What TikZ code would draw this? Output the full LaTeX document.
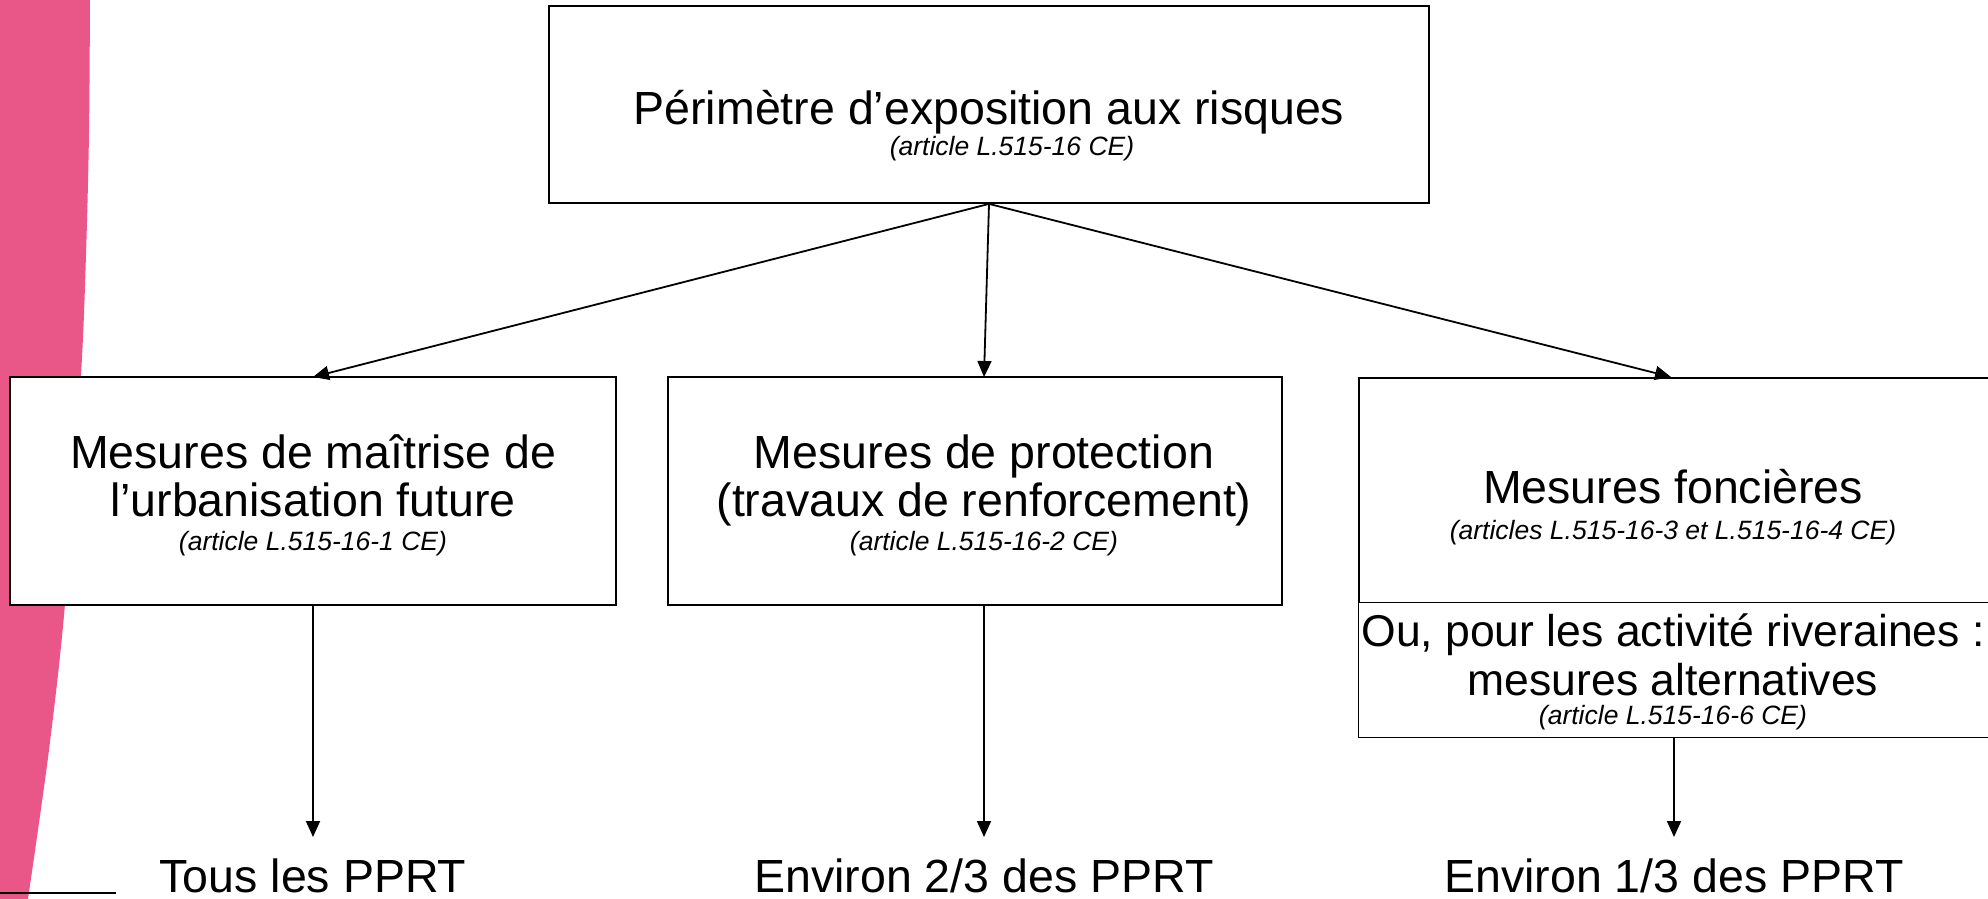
\documentclass[tikz,border=0pt]{standalone}
\usepackage{fontspec}
\setmainfont{Liberation Sans}
\usetikzlibrary{arrows.meta}
\definecolor{rose}{RGB}{232,87,135}
\begin{document}
\begin{tikzpicture}[x=1pt,y=-1pt,
  box/.style={draw=black, line width=1.8pt, fill=white, inner sep=0pt},
  arr/.style={line width=1.8pt, -{Triangle[length=16pt,width=14pt]}},
  big/.style={anchor=base, inner sep=0pt, font=\fontsize{46.5}{50}\selectfont},
  mid/.style={anchor=base, inner sep=0pt, font=\fontsize{44.5}{50}\selectfont},
  ital/.style={anchor=base, inner sep=0pt, font=\fontsize{26.5}{30}\selectfont\itshape},
]
\useasboundingbox (0,0) rectangle (1988,899);
% pink band
\fill[rose] (0,0) -- plot[smooth] coordinates {(90,0) (89,133) (86,255) (81,375) (65,604) (49,750) (28,899)} -- (0,899) -- cycle;
\coordinate (bl1) at (0,893);
\coordinate (bl2) at (116,893);
\draw[line width=1.5pt] (bl1) -- (bl2);

% boxes
\node[box, minimum width=880pt, minimum height=197pt] (top) at (989,104.5) {};
\node[box, minimum width=606pt, minimum height=228pt] (left) at (313,491) {};
\node[box, minimum width=614pt, minimum height=228pt] (midbox) at (975,491) {};
\node[box, minimum width=640pt, minimum height=225pt, anchor=north west] (rup) at (1358,377) {};
\node[box, line width=1.4pt, minimum width=640pt, minimum height=135pt, anchor=north west] (rlo) at (1358,602) {};

% texts
\node[big] (t1) at (989,124) {Périmètre d’exposition aux risques};
\node[ital] (t2) at (1012,155) {(article L.515-16 CE)};

\node[big] (l1) at (313,468) {Mesures de maîtrise de};
\node[big] (l2) at (313,516) {l’urbanisation future};
\node[ital] (l3) at (313,550) {(article L.515-16-1 CE)};

\node[big] (m1) at (984,468) {Mesures de protection};
\node[big] (m2) at (984,516) {(travaux de renforcement)};
\node[ital] (m3) at (984,550) {(article L.515-16-2 CE)};

\node[big] (r1) at (1673,503) {Mesures foncières};
\node[ital] (r2) at (1673,539) {(articles L.515-16-3 et L.515-16-4 CE)};
\node[mid] (r3) at (1673,646) {Ou, pour les activité riveraines :};
\node[mid] (r4) at (1673,695) {mesures alternatives};
\node[ital] (r5) at (1673,724) {(article L.515-16-6 CE)};

\node[big] (b1) at (313,892) {Tous les PPRT};
\node[big] (b2) at (984,892) {Environ 2/3 des PPRT};
\node[big] (b3) at (1674,892) {Environ 1/3 des PPRT};

% arrows
\coordinate (tl) at (313,377);
\coordinate (tm) at (984,377);
\coordinate (tr) at (1671,377);
\draw[arr] (top.south) -- (tl);
\draw[arr] (top.south) -- (tm);
\draw[arr] (top.south) -- (tr);

\coordinate (bl) at (313,837);
\coordinate (bm) at (984,837);
\coordinate (br) at (1674,837);
\draw[arr] (left.south) -- (bl);
\draw[arr] (bm |- midbox.south) -- (bm);
\draw[arr] (br |- rlo.south) -- (br);
\end{tikzpicture}
\end{document}
